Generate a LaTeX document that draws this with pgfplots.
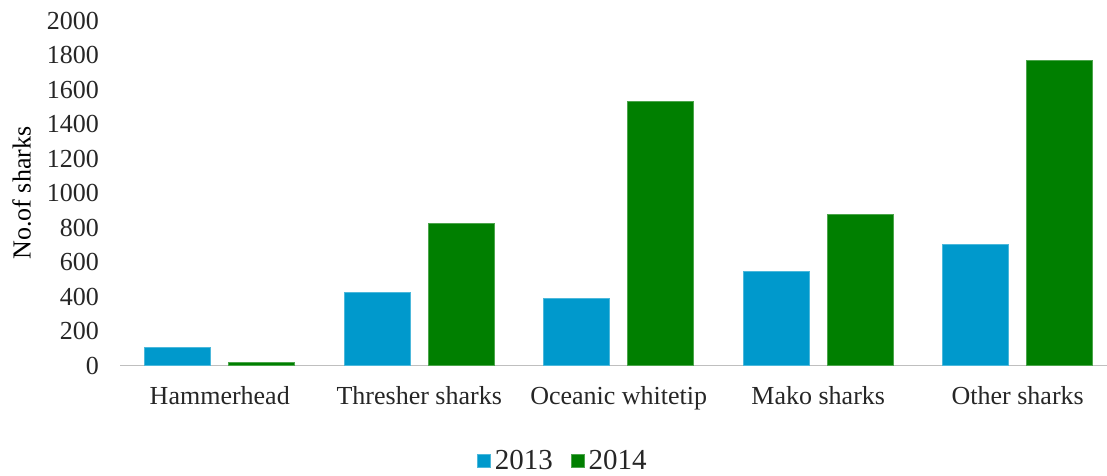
\documentclass[border=0pt]{standalone}
\usepackage{pgfplots}
\pgfplotsset{compat=1.18}
\usepackage{fontspec}
\setmainfont{Liberation Serif}
\definecolor{c13}{HTML}{0099CC}
\definecolor{c14}{HTML}{007F00}
\definecolor{axgray}{HTML}{BFBFBF}
\begin{document}
\begin{tikzpicture}
\path[use as bounding box] (-60pt,-55pt) rectangle (493.5pt,182.75pt);
\begin{axis}[
  at={(0,0)}, anchor=south west,
  scale only axis,
  width=498.75pt, height=172.5pt,
  xmin=-0.5, xmax=4.5,
  ymin=0, ymax=2000,
  xtick={0,1,2,3,4},
  xticklabels={Hammerhead,Thresher sharks,Oceanic whitetip,Mako sharks,Other sharks},
  ytick={0,200,...,2000},
  /pgf/number format/assume math mode=true,
  /pgf/number format/1000 sep={},
  tick label style={font=\fontsize{13}{15}\selectfont, text=black!85},
  major tick length=0pt,
  axis x line*=bottom, axis y line*=left,
  x axis line style={draw=axgray, line width=0.8pt, -},
  y axis line style={draw=none},
  xticklabel style={yshift=-7pt},
  yticklabel style={xshift=-7pt},
  ylabel={No.of sharks},
  ylabel style={at={(axis description cs:-0.0985,0.5)}, anchor=center, rotate=0, font=\fontsize{13}{15}\selectfont},
  ybar, bar width=33pt,
  legend style={at={(axis description cs:0.445,-0.278)}, anchor=center, draw=none, legend columns=2,
    font=\fontsize{14.5}{16}\selectfont, text=black!85, /tikz/every even column/.append style={column sep=7pt},
    /tikz/every odd column/.append style={}},
  legend image code/.code={\fill[#1] (0pt,-3pt) rectangle (6.5pt,3.5pt);},
  clip=false,
]
\addplot[fill=c13, draw=c13!70!white, bar shift=-21pt] coordinates {(0,105) (1,424) (2,390) (3,546) (4,704)};
\addplot[fill=c14, draw=c14!70!white, bar shift=21pt] coordinates {(0,16) (1,822) (2,1532) (3,877) (4,1767)};
\legend{2013,2014}
\end{axis}
\end{tikzpicture}
\end{document}
